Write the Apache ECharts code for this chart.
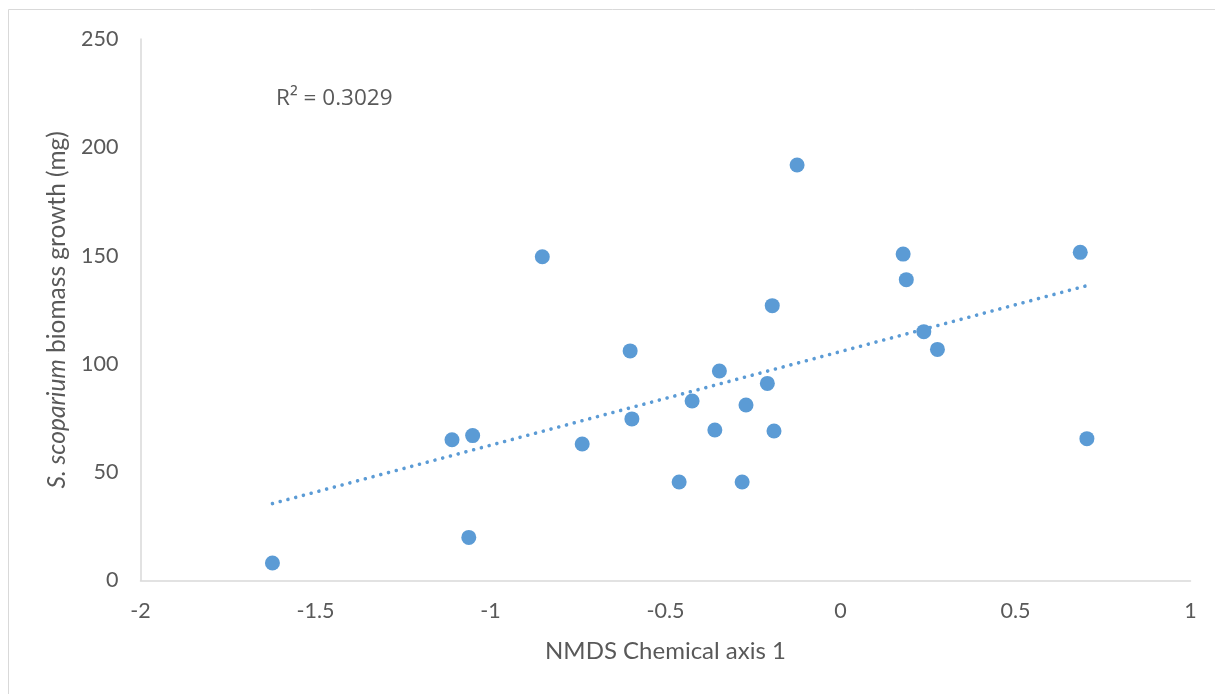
<!DOCTYPE html>
<html>
<head>
<meta charset="utf-8">
<script src="https://cdn.jsdelivr.net/npm/echarts@6/dist/echarts.min.js"></script>
<style>
html,body{margin:0;padding:0;background:#fff;}
#chart{width:1215px;height:694px;}
</style>
</head>
<body>
<div id="chart"></div>
<script>
// NMDS Chemical axis 1 values
const xValues = [-1.623, -1.062, -1.110, -1.051, -0.852, -0.738, -0.601, -0.596, -0.461, -0.424,
                 -0.346, -0.359, -0.281, -0.270, -0.209, -0.195, -0.190, -0.124, 0.179, 0.188,
                 0.238, 0.277, 0.685, 0.704];
// S. scoparium biomass growth (mg)
const yValues = [8.1, 19.9, 65.0, 66.9, 149.5, 63.0, 106.0, 74.6, 45.5, 82.9,
                 96.7, 69.5, 45.5, 81.0, 91.0, 126.9, 69.0, 191.8, 150.7, 138.9,
                 114.9, 106.7, 151.5, 65.5];
const xTicks = [-2, -1.5, -1, -0.5, 0, 0.5, 1];
const yTicks = [0, 50, 100, 150, 200, 250];
const rSquaredLabel = 'R² = 0.3029';
const xTitle = 'NMDS Chemical axis 1';

// linear least squares trendline from the data
const n = xValues.length;
const mx = xValues.reduce((a, b) => a + b, 0) / n;
const my = yValues.reduce((a, b) => a + b, 0) / n;
let sxy = 0, sxx = 0;
for (let i = 0; i < n; i++) { sxy += (xValues[i] - mx) * (yValues[i] - my); sxx += (xValues[i] - mx) ** 2; }
const slope = sxy / sxx, intercept = my - slope * mx;
const xMin = Math.min(...xValues), xMax = Math.max(...xValues);
const trend = [[xMin, intercept + slope * xMin], [xMax, intercept + slope * xMax]];

const points = xValues.map((x, i) => [x, yValues[i]]);
const font = 'Lato, "Open Sans", sans-serif';
const txt = '#595959';

const chart = echarts.init(document.getElementById('chart'), null, {renderer: 'canvas'});
chart.setOption({
  animation: false,
  backgroundColor: '#fff',
  grid: {left: 140.5, right: 24.5, top: 39, bottom: 113.5},
  xAxis: {
    type: 'value', min: xTicks[0], max: xTicks[xTicks.length - 1], interval: 0.5,
    axisLine: {show: true, onZero: false, lineStyle: {color: '#d9d9d9', width: 1.5}},
    axisTick: {show: false},
    splitLine: {show: false},
    axisLabel: {color: txt, fontSize: 21.5, fontFamily: font, margin: 20},
    name: xTitle, nameLocation: 'middle', nameGap: 59,
    nameTextStyle: {color: txt, fontSize: 24, fontFamily: font}
  },
  yAxis: {
    type: 'value', min: yTicks[0], max: yTicks[yTicks.length - 1], interval: 50,
    axisLine: {show: true, onZero: false, lineStyle: {color: '#d9d9d9', width: 1.5}},
    axisTick: {show: false},
    splitLine: {show: false},
    axisLabel: {color: txt, fontSize: 21.5, fontFamily: font, margin: 22},
    name: '{i|S. scoparium} biomass growth (mg)', nameLocation: 'middle', nameGap: 70.5, nameRotate: 90,
    nameTextStyle: {color: txt, fontSize: 24.5, fontFamily: font,
      rich: {i: {fontStyle: 'italic', color: txt, fontSize: 24.5, fontFamily: font}}}
  },
  graphic: [
    {type: 'rect', silent: true, z: -10, shape: {x: 8.5, y: 9.5, width: 1300, height: 800},
     style: {fill: 'none', stroke: '#d9d9d9', lineWidth: 1}},
    {type: 'text', left: 276, top: 87, style: {text: rSquaredLabel, fill: '#595959', fontSize: 22.5,
      fontFamily: '"Open Sans", sans-serif'}}
  ],
  series: [
    {type: 'line', data: trend, symbol: 'none', z: 2,
     lineStyle: {color: '#5b9bd5', width: 3.6, type: [0.01, 8], cap: 'round'}},
    {type: 'scatter', data: points, symbol: 'circle', symbolSize: 15, z: 3,
     itemStyle: {color: '#5b9bd5', opacity: 1}}
  ]
});
</script>
</body>
</html>
